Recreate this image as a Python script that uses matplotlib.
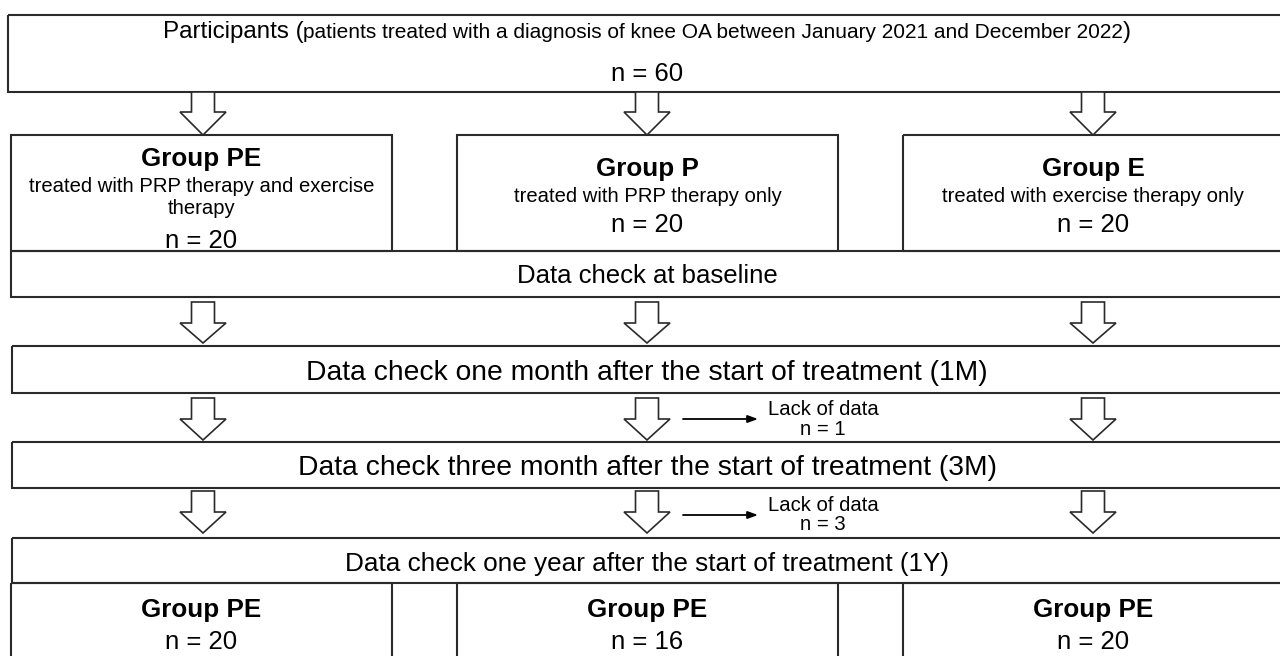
import matplotlib
matplotlib.use("Agg")
import matplotlib.pyplot as plt
from matplotlib.patches import Rectangle, Polygon
from matplotlib.offsetbox import TextArea, HPacker, AnnotationBbox

plt.rcParams['font.family'] = ['Liberation Sans', 'DejaVu Sans']

# chart content
title_main = "Participants"
title_note = "patients treated with a diagnosis of knee OA between January 2021 and December 2022"
total_n = 60
group_names = ["Group PE", "Group P", "Group E"]
group_desc = [["treated with PRP therapy and exercise", "therapy"],
              ["treated with PRP therapy only"],
              ["treated with exercise therapy only"]]
group_n = [20, 20, 20]
stage_labels = ["Data check at baseline",
                "Data check one month after the start of treatment (1M)",
                "Data check three month after the start of treatment (3M)",
                "Data check one year after the start of treatment (1Y)"]
lack_n = [1, 3]  # group P drop-outs after 1M and after 3M
final_names = ["Group PE", "Group PE", "Group PE"]
final_n = [20, 16, 20]

LC = "#2a2a2a"
LW = 1.5

fig = plt.figure(figsize=(12.8, 6.56), dpi=100)
ax = fig.add_axes([0, 0, 1, 1])
ax.set_xlim(0, 1280)
ax.set_ylim(656, 0)
ax.axis("off")


def box(x0, y0, x1, y1):
    ax.add_patch(Rectangle((x0, y0), x1 - x0, y1 - y0, fill=False,
                           edgecolor=LC, lw=LW, zorder=2))


def block_arrow(cx, y0, yh, y1, sw=11.5, hw=23):
    pts = [(cx - sw, y0), (cx + sw, y0), (cx + sw, yh), (cx + hw, yh),
           (cx, y1), (cx - hw, yh), (cx - sw, yh)]
    ax.add_patch(Polygon(pts, closed=True, facecolor="white",
                         edgecolor=LC, lw=1.2, zorder=3))


cols = [(11, 392), (457, 838), (903, 1286)]
centers = [203, 647, 1093]

# top box
box(8, 15, 1286, 92)
parts = HPacker(children=[
    TextArea(title_main + " (", textprops=dict(size=17.4)),
    TextArea(title_note, textprops=dict(size=15.0)),
    TextArea(")", textprops=dict(size=17.4))], align="baseline", pad=0, sep=0)
ab = AnnotationBbox(parts, (647, 32), frameon=False, box_alignment=(0.5, 0.5))
ax.add_artist(ab)
ax.text(647, 81, f"n = {total_n}", size=18.5, ha="center", va="baseline")

# arrows into groups
for c in centers:
    block_arrow(c, 92, 112, 135)

# group boxes
title_y = [166, 176, 176]
desc_y = [[192, 214], [202], [202]]
n_y = [248, 232, 232]
for i, (x0, x1) in enumerate(cols):
    box(x0, 135, x1, 251)
    cx = (x0 + x1) / 2 if i < 2 else centers[2]
    ax.text(cx, title_y[i], group_names[i], size=18.7, weight="bold",
            ha="center", va="baseline")
    for line, yy in zip(group_desc[i], desc_y[i]):
        ax.text(cx, yy, line, size=14.6, ha="center", va="baseline")
    ax.text(cx, n_y[i], f"n = {group_n[i]}", size=18.5, ha="center", va="baseline")

# stage boxes
stage_box = [(11, 251, 297), (12, 346, 393), (12, 442, 488), (12, 538, 583)]
stage_base = [283, 380, 475, 571]
stage_size = [18.5, 20.3, 20.3, 18.8]
for (x0, y0, y1), yb, fs, lab in zip(stage_box, stage_base, stage_size, stage_labels):
    box(x0, y0, 1286, y1)
    ax.text(647, yb, lab, size=fs, ha="center", va="baseline")

arrow_rows = [(302, 323, 343), (398, 419, 440), (491, 512, 533)]
for (a, b, c) in arrow_rows:
    for cx in centers:
        block_arrow(cx, a, b, c)

# lack of data notes
lack_rows = [(419, 415, 435), (515, 511, 530)]
for n, (ya, yt1, yt2) in zip(lack_n, lack_rows):
    ax.annotate("", xy=(758, ya), xytext=(683, ya),
                arrowprops=dict(arrowstyle="-|>,head_length=0.6,head_width=0.22",
                                color="black", lw=1.3, shrinkA=0, shrinkB=0))
    ax.text(823, yt1, "Lack of data", size=14.6, ha="center", va="baseline")
    ax.text(823, yt2, f"n = {n}", size=14.6, ha="center", va="baseline")

# final groups
for i, (x0, x1) in enumerate(cols):
    box(x0, 583, x1, 670)
    cx = (x0 + x1) / 2 if i < 2 else centers[2]
    ax.text(cx, 617, final_names[i], size=18.7, weight="bold",
            ha="center", va="baseline")
    ax.text(cx, 649, f"n = {final_n[i]}", size=18.5, ha="center", va="baseline")

fig.savefig("out.png", dpi=100, facecolor="white")
